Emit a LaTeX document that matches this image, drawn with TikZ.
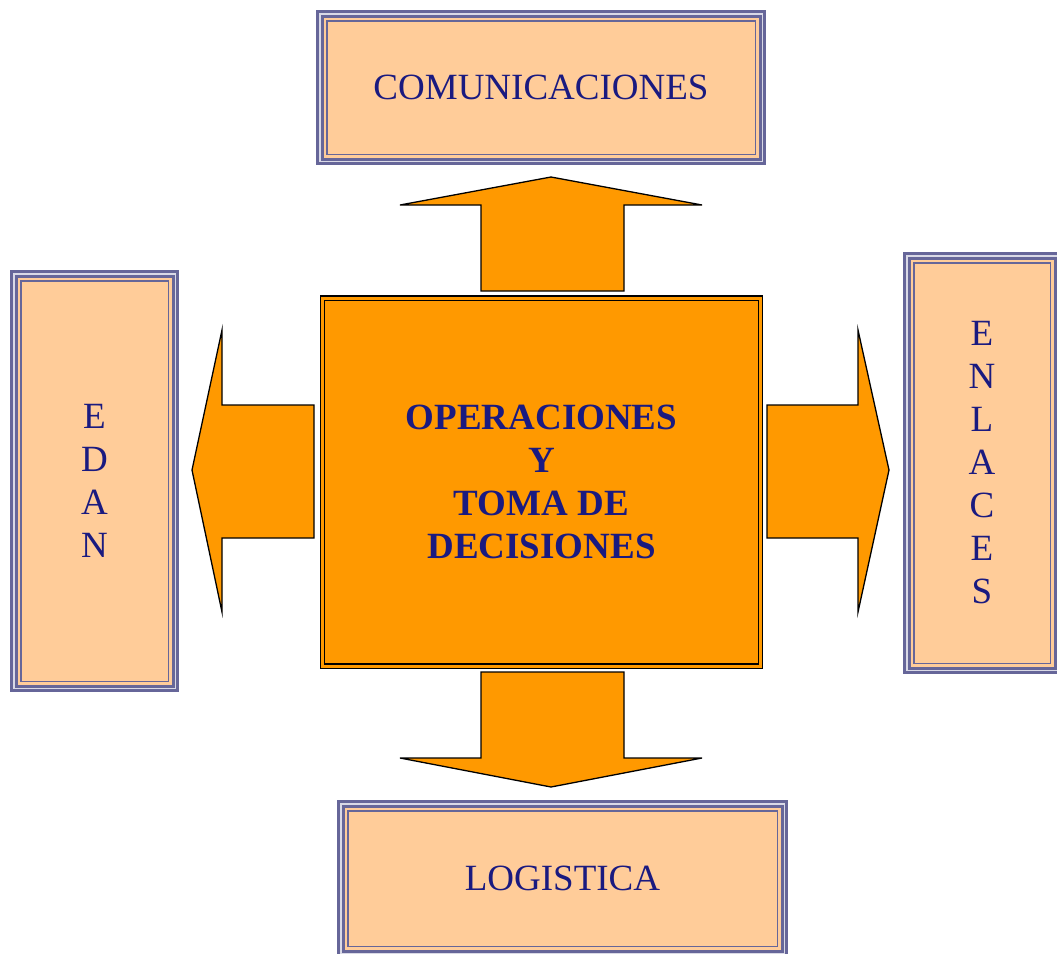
\documentclass[tikz,border=0pt]{standalone}
\usepackage{fontspec}
\setmainfont{Liberation Serif}
\definecolor{orangefill}{HTML}{FF9900}
\definecolor{peach}{HTML}{FFCC99}
\definecolor{frame}{HTML}{666699}
\definecolor{textblue}{HTML}{1A1A80}
\tikzset{
	sidebox/.style={draw=frame, line width=3pt, double=frame!25!white, double distance=1.5pt,
		fill=peach, inner sep=0pt, align=center, text=textblue,
		font=\fontsize{37}{43}\selectfont},
	innerline/.style={draw=frame, line width=1.5pt},
	centerbox/.style={draw=black, line width=1.2pt, double=orangefill, double distance=3pt,
		fill=orangefill, inner sep=0pt, align=center, text=textblue,
		font=\bfseries\fontsize{37}{43}\selectfont},
	blockarrow/.style={draw=black, line width=1.3pt, fill=orangefill, line join=miter}
}
\begin{document}
\begin{tikzpicture}[x=1pt,y=-1pt]
	\useasboundingbox (0,0) rectangle (1057,953);
	\clip (0,0) rectangle (1057,953);

	% arrows
	\draw[blockarrow] (481,291) -- (481,205) -- (400,205) -- (551,177) -- (702,205) -- (624,205) -- (624,291) -- cycle; %up
	\draw[blockarrow] (481,672) -- (481,758) -- (400,758) -- (551,787) -- (702,758) -- (624,758) -- (624,672) -- cycle; %down
	\draw[blockarrow] (314,405) -- (222,405) -- (222,330) -- (192,470) -- (222,612) -- (222,538) -- (314,538) -- cycle; %left
	\draw[blockarrow] (767,405) -- (858,405) -- (858,330) -- (889,470) -- (858,612) -- (858,538) -- (767,538) -- cycle; %right

	% boxes
	\node[centerbox, minimum width=438pt, minimum height=368pt] (ops) at (541.5,482)
		{OPERACIONES\\Y\\TOMA DE\\DECISIONES};

	\node[sidebox, minimum width=442.5pt, minimum height=147.5pt] (comm) at (541,87.5) {COMUNICACIONES};
	\node[sidebox, minimum width=161.5pt, minimum height=414.5pt] (edan) at (94.5,481) {E\\D\\A\\N};
	\node[sidebox, minimum width=150.5pt, minimum height=414.5pt] (enl) at (982,463) {E\\N\\L\\A\\C\\E\\S};
	\node[sidebox, minimum width=443.5pt, minimum height=149.5pt] (logi) at (562.5,878.5) {LOGISTICA};

	\foreach \b in {comm,edan,enl,logi}
		\draw[innerline] ([shift={(8.5pt,-8.5pt)}]\b.north west) rectangle ([shift={(-8.5pt,8.5pt)}]\b.south east);
\end{tikzpicture}
\end{document}
